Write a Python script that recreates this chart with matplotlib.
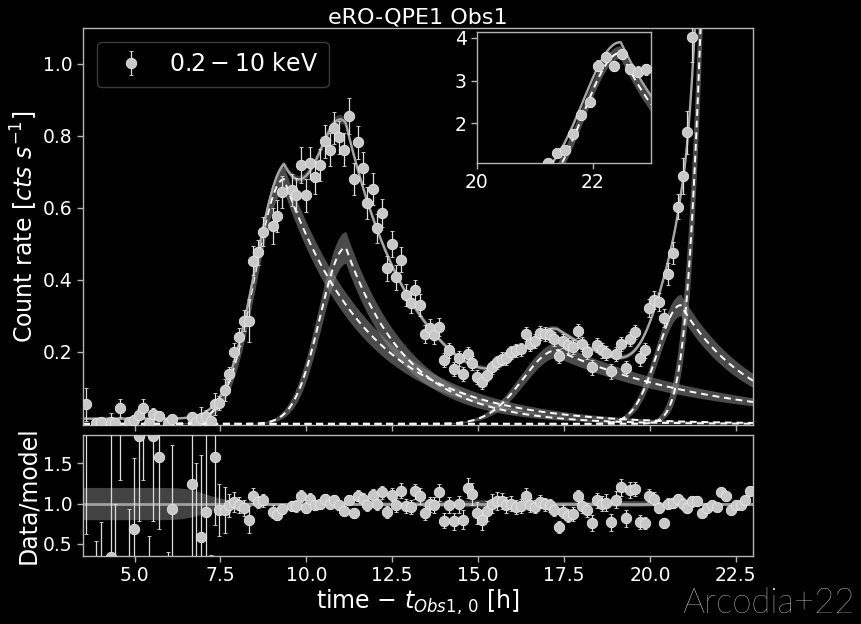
import numpy as np
import matplotlib
matplotlib.use("Agg")
import matplotlib.pyplot as plt

# ---------------- data ----------------
time_h = [3.58, 3.87, 4.02, 4.31, 4.44, 4.57, 4.85, 4.99, 5.13, 5.26,
          5.41, 5.54, 5.70, 5.96, 6.10, 6.67, 6.80, 6.93, 7.07, 7.22,
          7.35, 7.47, 7.62, 7.75, 7.90, 8.04, 8.18, 8.32, 8.46, 8.60,
          8.73, 9.02, 9.16, 9.30, 9.57, 9.71, 9.85, 9.98, 10.12, 10.26,
          10.41, 10.55, 10.69, 10.81, 10.96, 11.10, 11.23, 11.38, 11.51, 11.66,
          11.78, 11.93, 12.07, 12.21, 12.34, 12.49, 12.62, 12.76, 12.90, 13.04,
          13.17, 13.31, 13.45, 13.59, 13.73, 13.87, 14.01, 14.15, 14.29, 14.43,
          14.56, 14.70, 14.83, 14.98, 15.12, 15.27, 15.40, 15.55, 15.69, 15.82,
          15.97, 16.10, 16.24, 16.38, 16.51, 16.66, 16.79, 16.95, 17.08, 17.21,
          17.35, 17.48, 17.63, 17.76, 17.91, 18.03, 18.18, 18.31, 18.45, 18.60,
          18.73, 18.88, 19.02, 19.15, 19.29, 19.42, 19.56, 19.70, 19.85, 19.97,
          20.12, 20.26, 20.41, 20.53, 20.68, 20.81, 20.95, 21.09, 21.23, 21.38,
          21.52, 21.66, 21.80, 21.94, 22.08, 22.22, 22.36, 22.50, 22.64, 22.78,
          22.92]

rate = [0.054, 0.003, 0.004, 0.005, 0.003, 0.044, 0.004, 0.011, 0.026, 0.044,
        0.003, 0.028, 0.023, 0.003, 0.014, 0.018, 0.004, 0.017, 0.018, 0.007,
        0.056, 0.058, 0.095, 0.139, 0.199, 0.241, 0.287, 0.287, 0.454, 0.477,
        0.534, 0.551, 0.577, 0.645, 0.650, 0.637, 0.720, 0.635, 0.725, 0.685,
        0.720, 0.785, 0.762, 0.822, 0.796, 0.762, 0.856, 0.681, 0.782, 0.711,
        0.614, 0.653, 0.543, 0.586, 0.432, 0.500, 0.407, 0.456, 0.358, 0.337,
        0.371, 0.330, 0.250, 0.266, 0.246, 0.269, 0.177, 0.204, 0.152, 0.182,
        0.139, 0.193, 0.169, 0.130, 0.116, 0.136, 0.157, 0.171, 0.181, 0.182,
        0.199, 0.204, 0.208, 0.250, 0.222, 0.231, 0.253, 0.250, 0.247, 0.236,
        0.188, 0.231, 0.218, 0.213, 0.259, 0.222, 0.201, 0.157, 0.220, 0.204,
        0.197, 0.146, 0.194, 0.222, 0.155, 0.236, 0.256, 0.182, 0.204, 0.321,
        0.343, 0.340, 0.293, 0.417, 0.475, 0.603, 0.690, 0.810, 1.076, 1.31,
        1.38, 1.76, 2.19, 2.49, 3.35, 3.55, 3.34, 3.62, 3.27, 3.21,
        3.26]

rate_err = [0.045, 0.005, 0.007, 0.025, 0.012, 0.025, 0.011, 0.014, 0.015, 0.025,
            0.006, 0.016, 0.013, 0.003, 0.012, 0.015, 0.020, 0.030, 0.020, 0.003,
            0.030, 0.020, 0.030, 0.020, 0.025, 0.025, 0.030, 0.060, 0.040, 0.035,
            0.040, 0.050, 0.045, 0.045, 0.045, 0.045, 0.050, 0.045, 0.045, 0.045,
            0.045, 0.045, 0.045, 0.045, 0.045, 0.045, 0.050, 0.045, 0.045, 0.045,
            0.045, 0.045, 0.040, 0.040, 0.035, 0.035, 0.035, 0.035, 0.030, 0.030,
            0.030, 0.030, 0.025, 0.025, 0.025, 0.025, 0.020, 0.020, 0.020, 0.020,
            0.020, 0.020, 0.020, 0.020, 0.018, 0.018, 0.018, 0.018, 0.018, 0.018,
            0.018, 0.018, 0.018, 0.020, 0.020, 0.020, 0.020, 0.020, 0.020, 0.020,
            0.020, 0.020, 0.020, 0.020, 0.020, 0.020, 0.020, 0.020, 0.020, 0.020,
            0.020, 0.020, 0.020, 0.020, 0.020, 0.020, 0.020, 0.020, 0.020, 0.025,
            0.025, 0.025, 0.025, 0.030, 0.030, 0.035, 0.050, 0.060, 0.070, 0.080,
            0.080, 0.090, 0.100, 0.100, 0.120, 0.120, 0.120, 0.120, 0.120, 0.120,
            0.120]

ratio = [3.70, 0.20, 0.28, 0.34, 0.20, 3.00, 0.25, 0.69, 1.84, 3.00,
         0.20, 1.84, 1.58, 0.20, 0.93, 1.24, 0.25, 0.58, 0.89, 0.25,
         1.58, 0.92, 0.92, 0.98, 1.02, 0.98, 0.94, 0.80, 1.10, 1.02,
         1.04, 0.90, 0.86, 0.93, 0.97, 0.97, 1.09, 0.95, 1.06, 0.98,
         1.00, 1.06, 1.00, 1.05, 0.98, 0.91, 1.05, 0.88, 1.10, 1.06,
         0.98, 1.11, 0.99, 1.14, 0.90, 1.11, 0.98, 1.16, 0.97, 0.96,
         1.15, 1.09, 0.88, 0.99, 0.98, 1.14, 0.79, 0.98, 0.78, 0.99,
         0.80, 1.19, 1.12, 0.88, 0.80, 0.91, 1.00, 1.03, 1.03, 0.98,
         1.00, 0.96, 0.97, 1.10, 0.98, 0.96, 1.02, 0.99, 0.98, 0.92,
         0.71, 0.90, 0.85, 0.87, 1.09, 0.97, 0.92, 0.76, 1.04, 1.00,
         1.01, 0.77, 1.05, 1.20, 0.82, 1.17, 1.18, 0.77, 0.76, 1.10,
         1.06, 0.95, 0.76, 1.00, 1.01, 1.06, 1.00, 0.95, 1.03, 1.03,
         0.88, 0.95, 0.98, 0.96, 1.14, 1.09, 0.92, 0.98, 0.98, 1.04,
         1.16]

# burst model parameters (Gaussian rise, exponential decay)
peak_time = [9.35, 11.15, 17.30, 20.90, 22.48]
peak_amp = [0.68, 0.49, 0.205, 0.33, 3.65]
rise_sigma = [0.85, 0.75, 1.00, 0.68, 0.65]
decay_tau = [2.5, 1.8, 4.7, 2.08, 1.3]
amp_unc = [0.05, 0.09, 0.10, 0.09, 0.04]
const_level = 0.0145

# ---------------- model ----------------
def burst(t, tp, a, sig, tau):
    return np.where(t < tp, a * np.exp(-(t - tp) ** 2 / (2 * sig ** 2)),
                    a * np.exp(-(t - tp) / tau))

t_arr = np.asarray(time_h)
r_arr = np.asarray(rate)
e_arr = np.asarray(rate_err)
q_arr = np.asarray(ratio)
q_err = e_arr * q_arr / r_arr

tg = np.linspace(3.4, 23.1, 3000)
comps, comps_lo, comps_hi = [], [], []
for tp, a, s, tau, du in zip(peak_time, peak_amp, rise_sigma, decay_tau, amp_unc):
    comps.append(burst(tg, tp, a, s, tau))
    comps_lo.append(burst(tg, tp, a * (1 - du), s * 0.95, tau * 0.93))
    comps_hi.append(burst(tg, tp, a * (1 + du), s * 1.05, tau * 1.07))
total = const_level + np.sum(comps, axis=0)
dev_hi = np.sum(np.array(comps_hi) - np.array(comps), axis=0)
dev_lo = np.sum(np.array(comps) - np.array(comps_lo), axis=0)
total_hi = const_level * 1.2 + np.sum(comps, axis=0) + 0.12 * dev_hi
total_lo = const_level * 0.8 + np.sum(comps, axis=0) - 0.12 * dev_lo

# ---------------- style ----------------
BG = "black"
SPINE = "#b4b4b4"
PT_FACE = "#c8c8c8"
PT_EDGE = "#e6e6e6"
ERRC = "#dcdcdc"

fig = plt.figure(figsize=(8.61, 6.24), dpi=100, facecolor=BG)
ax = fig.add_axes([83 / 861, 1 - 425 / 624, 670 / 861, 397 / 624])
axr = fig.add_axes([83 / 861, 1 - 556 / 624, 670 / 861, 121 / 624], sharex=ax)
axin = fig.add_axes([477 / 861, 1 - 163 / 624, 174 / 861, 131 / 624])

for a_ in (ax, axr, axin):
    a_.set_facecolor(BG)
    for sp in a_.spines.values():
        sp.set_color(SPINE)
        sp.set_linewidth(1.0)
    a_.tick_params(colors="white", labelcolor="white", color=SPINE, labelsize=13.5,
                   width=1.0, length=4)


def draw_model(a_, lw_dash=1.4):
    for c, lo, hi in zip(comps, comps_lo, comps_hi):
        a_.fill_between(tg, lo, hi, color="#8a8a8a", alpha=0.55, lw=0, zorder=1)
        a_.plot(tg, c, color="white", lw=lw_dash, ls=(0, (3.5, 2.5)), zorder=2)
    a_.fill_between(tg, total_lo, total_hi, color="#a0a0a0", alpha=0.35, lw=0, zorder=2.5)
    a_.plot(tg, total, color="#a6a6a6", lw=1.7, zorder=3)


def draw_points(a_, y, yerr, label=None):
    a_.errorbar(t_arr, y, yerr=yerr, fmt="o", ms=7.5, mfc=PT_FACE, mec=PT_EDGE,
                mew=0.6, ecolor=ERRC, elinewidth=0.9, capsize=1.6, capthick=0.9,
                zorder=5, label=label)

# main panel
draw_model(ax)
draw_points(ax, r_arr, e_arr, label=r"$0.2-10$ keV")
ax.set_xlim(3.5, 23.0)
ax.set_ylim(-0.003, 1.1)
ax.set_yticks([0.2, 0.4, 0.6, 0.8, 1.0])
ax.tick_params(labelbottom=False)
ax.set_ylabel(r"Count rate [$cts\ s^{-1}$]", color="white", fontsize=17, labelpad=2)
ax.set_title("eRO-QPE1 Obs1", color="white", fontsize=16, pad=3)
leg = ax.legend(loc="upper left", fontsize=17, frameon=True, facecolor="black",
                edgecolor="#3a3a3a", framealpha=1.0, handletextpad=0.6,
                borderpad=0.45, bbox_to_anchor=(0.003, 0.995))
for txt in leg.get_texts():
    txt.set_color("white")

# inset
draw_model(axin)
draw_points(axin, r_arr, e_arr)
axin.set_xlim(20.0, 23.0)
axin.set_ylim(1.08, 4.13)
axin.set_xticks([20, 22])
axin.set_yticks([2, 3, 4])

# ratio panel
axr.fill_between(tg, total_lo / total, total_hi / total, color="#7a7a7a",
                 alpha=0.55, lw=0, zorder=1)
axr.axhline(1.0, color="#a0a0a0", lw=2.0, zorder=2)
draw_points(axr, q_arr, q_err)
axr.set_ylim(0.35, 1.85)
axr.set_yticks([0.5, 1.0, 1.5])
axr.set_xticks([5.0, 7.5, 10.0, 12.5, 15.0, 17.5, 20.0, 22.5])
axr.set_xlim(3.5, 23.0)
axr.set_ylabel("Data/model", color="white", fontsize=17, labelpad=2)
axr.set_xlabel(r"time $-$ $t_{Obs1,\,0}$ [h]", color="white", fontsize=17, labelpad=2)

fig.align_ylabels([ax, axr])

fig.text(0.993, 0.008, "Arcodia+22", ha="right", va="bottom", fontsize=25,
         color="white", family="Lato", fontweight="light")

fig.savefig("out.png", dpi=100, facecolor=BG)
